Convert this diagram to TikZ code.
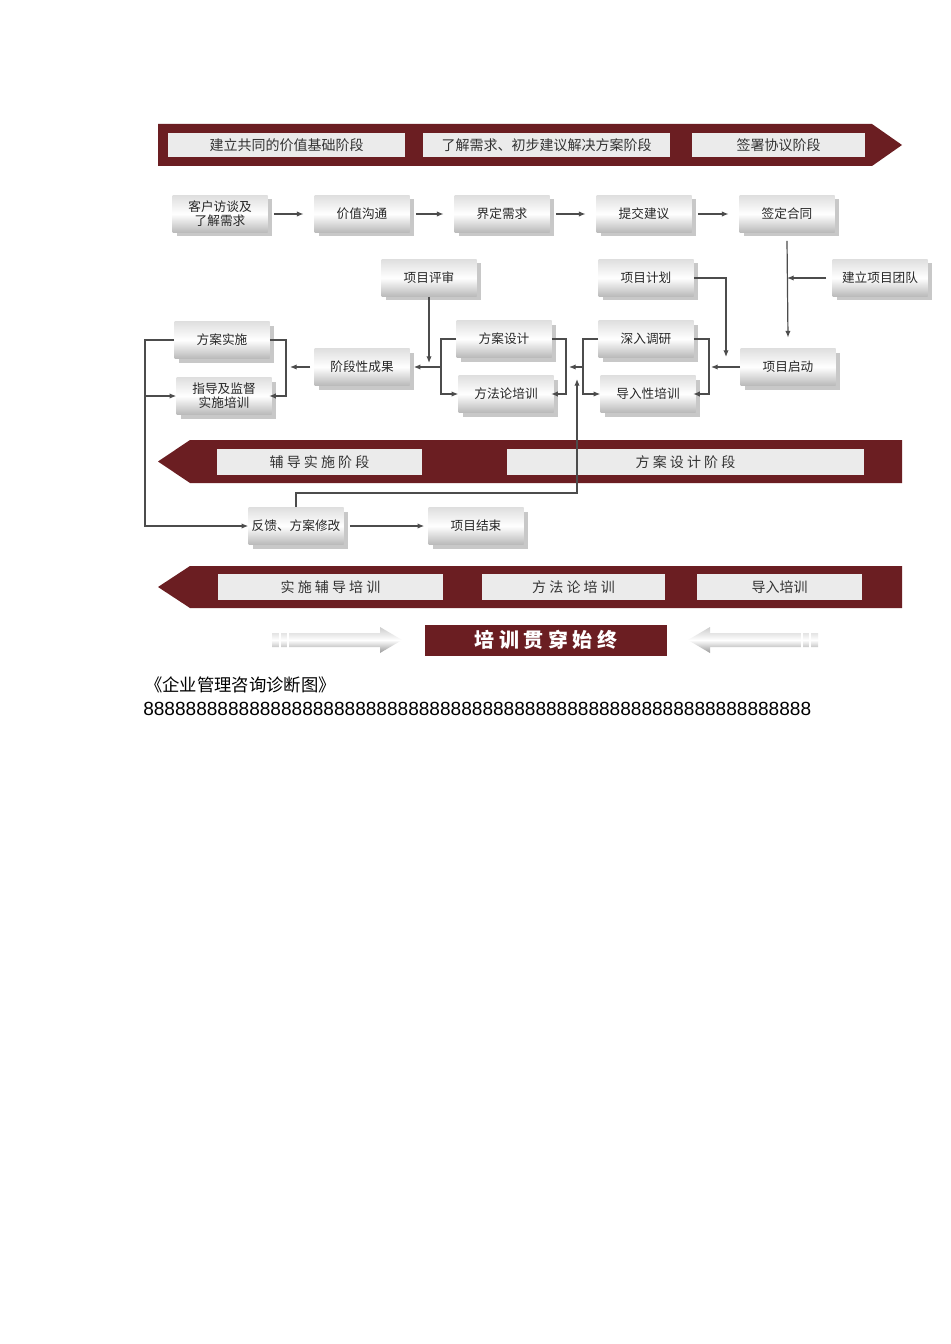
\documentclass[tikz,border=0pt]{standalone}
\usepackage{fontspec}
\newfontfamily\cjk{Noto Sans CJK SC}
\usetikzlibrary{shadows,arrows.meta}
\definecolor{dred}{HTML}{6B1E22}
\definecolor{lbl}{HTML}{EBEBEB}
\begin{document}
\begin{tikzpicture}[x=0.75pt,y=-0.75pt,
  bx/.style={draw=none,minimum width=95*0.75pt,minimum height=37*0.75pt,inner sep=1pt,align=center,
    font=\cjk\fontsize{9.5}{10.5}\selectfont,text=black!85,
    top color=gray!25,bottom color=gray!55,middle color=white,
    drop shadow={shadow xshift=3pt,shadow yshift=-3pt,fill=gray!60,opacity=0.7}},
  ln/.style={draw=black!70,line width=0.9pt},
  ar/.style={ln,-{Latex[length=5pt,width=4pt]}},
  lb/.style={fill=lbl,draw=none,font=\cjk\fontsize{10.5}{12}\selectfont,text=black!80,inner sep=0pt},
  ga/.style={top color=gray!40,bottom color=gray!80,middle color=white}]
\useasboundingbox (0,0) rectangle (950,1344);
\fill[white] (0,0) rectangle (950,1344);
% top bar
\fill[dred] (158,124) -- (872,124) -- (902,145) -- (872,166) -- (158,166) -- cycle;
\node[lb,minimum width=237*0.75pt,minimum height=24*0.75pt] (l1) at (286.5,145) {建立共同的价值基础阶段};
\node[lb,minimum width=247*0.75pt,minimum height=24*0.75pt] (l2) at (546.5,145) {了解需求、初步建议解决方案阶段};
\node[lb,minimum width=173*0.75pt,minimum height=24*0.75pt] (l3) at (778.5,145) {签署协议阶段};
% middle bar
\fill[dred] (158,461.5) -- (190,440) -- (902,440) -- (902,483) -- (190,483) -- cycle;
\node[lb,minimum width=205*0.75pt,minimum height=26*0.75pt] (m1) at (319.5,462) {辅\ 导\ 实\ 施\ 阶\ 段};
\node[lb,minimum width=357*0.75pt,minimum height=26*0.75pt] (m2) at (685.5,462) {方\ 案\ 设\ 计\ 阶\ 段};
% bottom bar
\fill[dred] (158,587) -- (190,566) -- (902,566) -- (902,608) -- (190,608) -- cycle;
\node[lb,minimum width=225*0.75pt,minimum height=26*0.75pt] (b1) at (330.5,587) {实\ 施\ 辅\ 导\ 培\ 训};
\node[lb,minimum width=183*0.75pt,minimum height=26*0.75pt] (b2) at (573.5,587) {方\ 法\ 论\ 培\ 训};
\node[lb,minimum width=165*0.75pt,minimum height=26*0.75pt] (b3) at (779.5,587) {导入培训};
% training box
\node[fill=dred,minimum width=242*0.75pt,minimum height=31*0.75pt,text=white,font=\cjk\bfseries\fontsize{15}{16}\selectfont] (tr) at (546,640) {培\ 训\ 贯\ 穿\ 始\ 终};
\shade[ga] (272,633) -- (380,633) -- (380,627) -- (402,640) -- (380,653) -- (380,647) -- (272,647) -- cycle;
\shade[ga] (818,633) -- (710,633) -- (710,627) -- (688,640) -- (710,653) -- (710,647) -- (818,647) -- cycle;
\foreach \x in {280,288} {\draw[white,line width=1.5pt] (\x,632) -- (\x,648);}
\foreach \x in {802,810} {\draw[white,line width=1.5pt] (\x,632) -- (\x,648);}
% boxes
\node[bx] (kh) at (220,214) {客户访谈及\\了解需求};
\node[bx] (jz) at (362,214) {价值沟通};
\node[bx] (jd) at (502,214) {界定需求};
\node[bx] (tj) at (644,214) {提交建议};
\node[bx] (qd) at (787,214) {签定合同};
\node[bx] (ps) at (429,278) {项目评审};
\node[bx] (jh) at (646,278) {项目计划};
\node[bx] (td) at (880,278) {建立项目团队};
\node[bx] (ss) at (222,340) {方案实施};
\node[bx] (zd) at (224,396) {指导及监督\\实施培训};
\node[bx] (jc) at (362,367) {阶段性成果};
\node[bx] (sj) at (504,339) {方案设计};
\node[bx] (ff) at (506,394) {方法论培训};
\node[bx] (dy) at (646,339) {深入调研};
\node[bx] (dr) at (648,394) {导入性培训};
\node[bx] (qm) at (788,367) {项目启动};
\node[bx] (fk) at (296,526) {反馈、方案修改};
\node[bx] (js) at (476,526) {项目结束};
% row 1
\draw[ar] (kh.east) ++(6,0) -- ([xshift=-8pt]jz.west);
\draw[ar] (jz.east) ++(6,0) -- ([xshift=-8pt]jd.west);
\draw[ar] (jd.east) ++(6,0) -- ([xshift=-8pt]tj.west);
\draw[ar] (tj.east) ++(6,0) -- ([xshift=-8pt]qd.west);
\draw[ar] (qd.south) ++(0,8) -- ([yshift=8pt]qm.north);
\coordinate (tdj) at (787,278);
\draw[ar] (td.west) ++(-6,0) -- (tdj);
\coordinate (jha) at (726,278);
\coordinate (jhb) at (726,357);
\draw[ar] (jh.east) -- (jha) -- (jhb);
\coordinate (qmj) at (711,367);
\draw[ar] (qm.west) -- (qmj);
\coordinate (r1) at (709,339);\coordinate (r2) at (709,394);
\draw[ar] (dy.east) -- (r1) -- (r2) -- ([xshift=-2pt]dr.east);
\coordinate (l1a) at (583,339);\coordinate (l1b) at (583,394);\coordinate (l1c) at (583,367);\coordinate (l1d) at (569,367);
\draw[ar] (dy.west) -- (l1a) -- (l1b) -- (dr.west);
\draw[ar] (l1c) -- (l1d);
\coordinate (s1) at (566,339);\coordinate (s2) at (566,394);
\draw[ar] (sj.east) -- (s1) -- (s2) -- ([xshift=-2pt]ff.east);
\coordinate (t1) at (441,339);\coordinate (t2) at (441,394);\coordinate (t3) at (441,367);
\draw[ar] (sj.west) -- (t1) -- (t2) -- (ff.west);
\draw[ar] (t3) -- ([xshift=3pt]jc.east);
\coordinate (psb) at (429,363);
\draw[ar] (ps.south) -- (psb);
\coordinate (u1) at (286,340);\coordinate (u2) at (286,396);\coordinate (u3) at (290,367);
\draw[ar] ([xshift=-3pt]jc.west) -- (u3);
\draw[ar] (ss.east) -- (u1) -- (u2) -- ([xshift=-2pt]zd.east);
\coordinate (v1) at (145,340);\coordinate (v2) at (145,526);\coordinate (v3) at (145,396);
\draw[ar] (ss.west) -- (v1) -- (v2) -- (fk.west);
\draw[ar] (v3) -- (zd.west);
\coordinate (w1) at (296,493);\coordinate (w2) at (577,493);\coordinate (w3) at (577,379);
\draw[ar] (fk.north) -- (w1) -- (w2) -- (w3);
\draw[ar] (fk.east) ++(6,0) -- ([xshift=-3pt]js.west);
% caption
\node[anchor=west,inner sep=0pt,font=\cjk\fontsize{13}{14}\selectfont] (cap) at (145,685) {《企业管理咨询诊断图》};
\node[anchor=west,inner sep=0pt] (eights) at (143,709) {\setmainfont{Liberation Sans}\fontsize{14.3}{16}\selectfont 888888888888888888888888888888888888888888888888888888888888888};
\end{tikzpicture}
\end{document}
